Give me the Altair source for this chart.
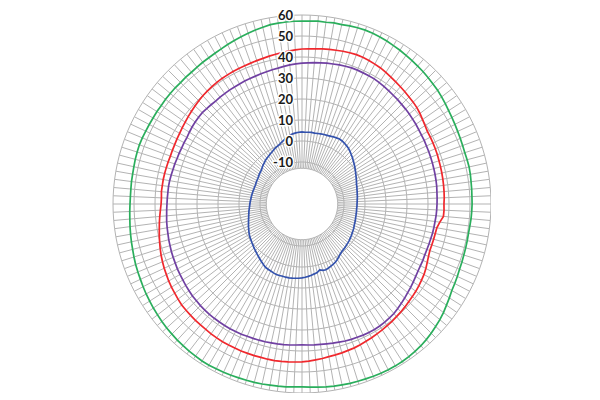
import altair as alt
import pandas as pd

# ---- data (one value per spoke, clockwise from top, 144 spokes) ----
green = [57.1, 57.2, 57.4, 57.3, 57.6, 57.5, 57.8, 58.0, 58.1, 58.0, 57.8, 57.5,
         57.1, 56.8, 56.4, 56.1, 55.7, 55.4, 55.0, 54.6, 54.3, 53.8, 53.3, 52.8,
         52.4, 52.1, 51.8, 51.6, 51.4, 51.3, 51.4, 51.5, 51.4, 51.2, 51.1, 51.0,
         51.0, 50.9, 50.8, 50.6, 50.5, 50.6, 50.7, 50.8, 51.0, 51.2, 51.6, 52.0,
         52.4, 53.2, 54.0, 54.9, 55.7, 56.3, 57.0, 57.6, 58.1, 58.4, 58.7, 58.9,
         59.0, 59.0, 58.9, 58.8, 58.6, 58.5, 58.4, 58.2, 58.1, 57.8, 57.5, 57.3,
         57.1, 57.2, 57.4, 57.5, 57.6, 57.8, 57.9, 58.0, 58.1, 58.3, 58.4, 58.5,
         58.6, 58.6, 58.4, 58.3, 58.1, 57.9, 57.6, 57.4, 57.1, 56.7, 56.4, 56.0,
         55.7, 55.3, 54.9, 54.6, 54.3, 53.9, 53.5, 53.2, 52.9, 52.6, 52.3, 52.1,
         51.9, 51.8, 51.8, 51.9, 51.9, 52.0, 52.2, 52.3, 52.4, 52.3, 52.1, 52.0,
         51.9, 51.9, 51.8, 51.9, 51.9, 51.9, 51.8, 51.9, 51.9, 52.1, 52.4, 52.6,
         52.9, 53.3, 53.8, 54.3, 54.8, 55.3, 55.8, 56.2, 56.7, 56.9, 57.0, 57.1]

red = [43.8, 43.9, 44.2, 44.5, 44.8, 45.0, 45.3, 45.5, 45.7, 45.6, 45.4, 45.1,
       44.8, 44.3, 43.8, 43.3, 42.9, 42.5, 42.1, 41.8, 41.4, 40.8, 40.1, 39.5,
       39.0, 38.9, 38.8, 38.7, 38.6, 38.4, 38.3, 38.2, 38.1, 38.0, 37.9, 37.8,
       37.6, 37.7, 37.6, 36.2, 35.2, 35.0, 34.9, 34.8, 34.8, 35.2, 35.8, 36.5,
       37.1, 37.5, 37.9, 38.3, 38.6, 38.9, 39.3, 39.7, 40.0, 40.4, 40.7, 41.1,
       41.4, 41.8, 42.1, 42.5, 42.9, 43.1, 43.4, 43.6, 43.8, 44.2, 44.5, 44.9,
       45.2, 45.3, 45.5, 45.6, 45.7, 45.7, 45.6, 45.7, 45.7, 45.8, 45.7, 45.7,
       45.7, 45.6, 45.5, 45.3, 45.2, 45.1, 45.0, 44.9, 44.8, 44.4, 44.0, 43.7,
       43.3, 42.8, 42.4, 41.9, 41.4, 40.8, 40.2, 39.6, 39.0, 38.5, 38.0, 37.5,
       37.1, 37.0, 37.2, 37.1, 37.1, 37.0, 36.9, 36.8, 36.7, 36.8, 36.9, 37.1,
       37.3, 37.6, 37.9, 38.3, 38.7, 39.1, 39.5, 39.9, 40.2, 40.5, 40.7, 40.9,
       41.0, 41.1, 41.2, 41.3, 41.4, 41.6, 41.8, 42.1, 42.4, 42.7, 43.1, 43.5]

purple = [37.1, 37.3, 37.6, 37.8, 38.1, 38.3, 38.6, 38.8, 39.0, 39.0, 38.9, 38.9,
          38.8, 38.5, 38.2, 37.9, 37.6, 37.4, 37.1, 36.9, 36.7, 36.4, 36.2, 35.9,
          35.7, 35.6, 35.4, 35.3, 35.2, 35.1, 35.0, 34.9, 34.8, 34.7, 34.5, 34.4,
          34.3, 34.2, 34.1, 33.9, 33.8, 33.7, 33.5, 33.4, 33.3, 33.3, 33.5, 33.6,
          33.8, 34.2, 34.7, 35.2, 35.7, 36.3, 36.9, 37.5, 38.1, 38.4, 38.7, 38.9,
          39.0, 39.0, 38.9, 38.7, 38.6, 38.4, 38.1, 37.9, 37.6, 37.4, 37.3, 37.2,
          37.1, 37.2, 37.4, 37.5, 37.6, 37.7, 37.9, 38.0, 38.1, 38.2, 38.4, 38.5,
          38.6, 38.6, 38.6, 38.6, 38.6, 38.5, 38.4, 38.2, 38.1, 37.8, 37.6, 37.3,
          37.1, 36.9, 36.6, 36.4, 36.2, 35.9, 35.7, 35.4, 35.2, 35.0, 34.7, 34.5,
          34.3, 34.2, 34.1, 34.1, 34.0, 33.8, 33.6, 33.5, 33.3, 33.3, 33.2, 33.3,
          33.3, 33.6, 33.9, 34.1, 34.3, 34.4, 34.2, 34.1, 34.0, 34.1, 34.2, 34.3,
          34.3, 34.4, 34.6, 34.7, 34.8, 35.0, 35.2, 35.5, 35.7, 36.1, 36.5, 36.8]

blue = [4.3, 4.2, 4.3, 4.4, 4.3, 4.4, 4.6, 4.7, 4.8, 5.0, 5.3, 5.5,
        5.7, 5.6, 5.3, 4.9, 4.5, 3.9, 3.2, 2.6, 1.9, 1.3, 0.7, 0.1,
        -0.5, -1.0, -1.5, -1.9, -2.4, -2.6, -2.9, -3.1, -3.3, -3.4, -3.6, -3.7,
        -3.8, -3.8, -3.9, -3.8, -3.8, -3.7, -3.6, -3.4, -3.3, -3.1, -2.8, -2.6,
        -2.4, -2.1, -1.9, -1.6, -1.4, -1.2, -0.9, -0.7, -0.5, 0.0, 0.6, 1.3,
        1.9, 2.3, 2.6, 3.0, 3.3, 3.1, 2.5, 3.4, 3.8, 4.2, 4.6, 4.9,
        5.2, 5.4, 5.5, 5.6, 5.7, 5.7, 5.6, 5.7, 5.7, 5.5, 5.2, 5.0,
        4.8, 4.2, 3.6, 3.0, 2.4, 1.9, 1.4, 1.0, 0.5, 0.1, -0.3, -0.6,
        -1.0, -1.5, -2.0, -2.4, -2.9, -3.3, -3.7, -4.0, -4.3, -4.5, -4.8, -5.0,
        -5.2, -5.3, -5.5, -5.6, -5.7, -5.8, -5.9, -6.0, -6.0, -6.1, -5.9, -5.8,
        -5.7, -5.5, -5.2, -5.0, -4.8, -4.3, -3.8, -3.4, -2.9, -2.5, -2.2, -1.8,
        -1.4, -0.9, -0.4, 0.0, 0.5, 1.2, 1.9, 2.6, 3.3, 3.7, 4.0, 4.2]

series_names = ["S1", "S2", "S3", "S4"]
series_values = [green, red, purple, blue]
series_colors = ["#2aae5c", "#f0282d", "#7040a2", "#3352ad"]

ring_values = [-10, 0, 10, 20, 30, 40, 50, 60]
tick_labels = ["60", "50", "40", "30", "20", "10", "0", "-10"]
tick_values = [60, 50, 40, 30, 20, 10, 0, -10]

axis_min = -30
axis_max = 60
hole_value = -13

n = len(green)
step = 360.0 / n

# ---- tables ----
rows = []
for name, vals in zip(series_names, series_values):
    for i in range(n + 1):
        rows.append({"series": name, "i": i, "v": vals[i % n]})
series_df = pd.DataFrame(rows)

ring_rows = []
for rv in [hole_value] + ring_values:
    for i in range(n + 1):
        ring_rows.append({"ring": rv, "i": i, "v": rv})
ring_df = pd.DataFrame(ring_rows)

spoke_df = pd.DataFrame({"i": list(range(n)), "v0": [hole_value] * n, "v1": [axis_max] * n})
label_df = pd.DataFrame({"label": tick_labels, "v": tick_values})

R = axis_max - axis_min
xs = alt.Scale(domain=[-R, R], nice=False, zero=False)
ys = alt.Scale(domain=[-R, R], nice=False, zero=False)
ang = f"datum.i * {step} * PI / 180"
X = f"(datum.v - ({axis_min})) * sin({ang})"
Y = f"(datum.v - ({axis_min})) * cos({ang})"

grid_color = "#b3b3b3"

spokes = alt.Chart(spoke_df).transform_calculate(
    x0=f"(datum.v0 - ({axis_min})) * sin({ang})",
    y0=f"(datum.v0 - ({axis_min})) * cos({ang})",
    x1=f"(datum.v1 - ({axis_min})) * sin({ang})",
    y1=f"(datum.v1 - ({axis_min})) * cos({ang})",
).mark_rule(color=grid_color, strokeWidth=1).encode(
    x=alt.X("x0:Q", scale=xs, axis=None),
    y=alt.Y("y0:Q", scale=ys, axis=None),
    x2="x1:Q",
    y2="y1:Q",
)

rings = alt.Chart(ring_df).transform_calculate(x=X, y=Y).mark_line(
    color=grid_color, strokeWidth=1
).encode(
    x=alt.X("x:Q", scale=xs, axis=None),
    y=alt.Y("y:Q", scale=ys, axis=None),
    detail="ring:N",
    order="i:Q",
)

lines = alt.Chart(series_df).transform_calculate(x=X, y=Y).mark_line(
    strokeWidth=1.7
).encode(
    x=alt.X("x:Q", scale=xs, axis=None),
    y=alt.Y("y:Q", scale=ys, axis=None),
    color=alt.Color("series:N", scale=alt.Scale(domain=series_names, range=series_colors), legend=None),
    order="i:Q",
)

lab_base = alt.Chart(label_df).transform_calculate(
    x="0", y=f"datum.v - ({axis_min})"
)
halo = lab_base.mark_text(
    align="right", baseline="middle", dx=-9, dy=1, font="Lato", fontSize=13,
    fontWeight="bold", color="white", stroke="white", strokeWidth=3
).encode(
    x=alt.X("x:Q", scale=xs, axis=None),
    y=alt.Y("y:Q", scale=ys, axis=None),
    text="label:N",
)
labels = lab_base.mark_text(
    align="right", baseline="middle", dx=-9, dy=1, font="Lato", fontSize=13,
    fontWeight="bold", color="#1a1a1a"
).encode(
    x=alt.X("x:Q", scale=xs, axis=None),
    y=alt.Y("y:Q", scale=ys, axis=None),
    text="label:N",
)

chart = alt.layer(spokes, rings, lines, halo, labels).properties(
    width=378, height=378,
    padding={"left": 105, "top": 7, "right": 0, "bottom": 0},
    autosize=alt.AutoSizeParams(type="none"),
).configure_view(stroke=None)

chart.save("out.html", embed_options={"renderer": "svg", "actions": False})
